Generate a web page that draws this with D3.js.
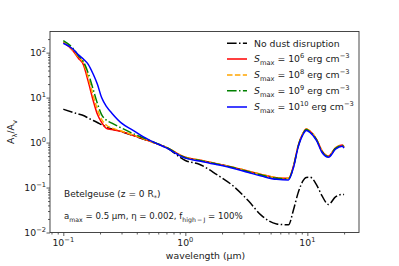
<!DOCTYPE html>
<html><head><meta charset="utf-8">
<script src="https://cdn.jsdelivr.net/npm/d3@7"></script>
<style>
body{margin:0;background:#fff}
svg{display:block}
text{font-family:"DejaVu Sans",sans-serif;fill:#1a1a1a}
</style>
</head><body>
<svg id="c" width="399" height="266"></svg>
<script>
// ---------- data ----------
const wavelength = [0.1,0.12,0.133,0.146,0.16,0.176,0.19,0.206,0.227,0.25,0.3,0.37,0.45,0.55,0.7,1.0,1.3,1.8,2.5,3.3,4.2,5.6,7.0,7.7,8.4,9.2,9.8,10.5,11.9,13.2,14.9,17,19.3,20];
const noDisruption = [5.5,4.7,4.3,4.0,3.5,3.1,2.8,2.5,2.2,2.0,1.75,1.45,1.2,1.0,0.77,0.40,0.33,0.196,0.105,0.05,0.024,0.0155,0.0148,0.032,0.076,0.14,0.168,0.17,0.115,0.065,0.042,0.062,0.07,0.07];
const smax1e6  = [170,110,75,54,23,8.5,4.3,2.8,2.05,1.95,1.75,1.46,1.22,1.0,0.78,0.47,0.41,0.34,0.28,0.23,0.196,0.165,0.16,0.3,0.84,1.6,2.0,1.8,1.18,0.65,0.5,0.76,0.88,0.8];
const smax1e8  = [172,115,80,60,28,11,5.5,3.3,2.4,2.1,1.8,1.48,1.23,1.0,0.78,0.47,0.41,0.34,0.28,0.23,0.196,0.165,0.16,0.3,0.84,1.6,2.0,1.8,1.18,0.65,0.5,0.76,0.88,0.8];
const smax1e9  = [185,125,85,63,35,15,7.5,4.2,3.1,2.7,2.1,1.6,1.28,1.02,0.78,0.46,0.40,0.335,0.275,0.225,0.19,0.16,0.155,0.29,0.82,1.55,1.95,1.75,1.15,0.63,0.49,0.74,0.86,0.78];
const smax1e10 = [162,120,89,72,55,33,20,10,6.2,4.5,2.7,1.9,1.35,1.02,0.76,0.45,0.39,0.325,0.265,0.215,0.18,0.152,0.148,0.28,0.78,1.5,1.85,1.68,1.1,0.6,0.47,0.71,0.83,0.75];
const seriesLabels = ["No dust disruption","6","8","9","10"];
const xTickExponents = ["\u22121","0","1"];
const yTickExponents = ["\u22122","\u22121","0","1","2"];

// ---------- layout ----------
const L=50,R=359,T=31.5,B=232.5;
const svg=d3.select("#c");
const x=d3.scaleLog().domain([0.0778,26.5]).range([L,R]);
const y=d3.scaleLog().domain([0.01,295]).range([B,T]);

svg.append("defs").append("clipPath").attr("id","clip")
  .append("rect").attr("x",L).attr("y",T).attr("width",R-L).attr("height",B-T);

// rich text: superscripts / subscripts done with dy, restored on the next tspan
function rich(sel, parts){
  let pending=0;
  parts.forEach(p=>{
    const ts=sel.append("tspan").text(p.t);
    let shift=0;
    if(p.sup) shift=-4;
    if(p.sub) shift=2.5;
    const dy=pending+shift;
    if(dy!==0) ts.attr("dy",dy);
    pending=-shift;
    if(p.sup||p.sub) ts.attr("font-size","0.72em");
    if(p.it) ts.attr("font-style","italic");
  });
}

// ---------- ticks ----------
const xMajor=[0.1,1,10];
const xMinor=[];
[0.01,0.1,1,10].forEach(d=>{for(let k=2;k<=9;k++){const v=d*k;if(v>=0.0778&&v<=26.5)xMinor.push(v);}});
const yMajor=[0.01,0.1,1,10,100];
const yMinor=[];
[0.01,0.1,1,10,100].forEach(d=>{for(let k=2;k<=9;k++){const v=d*k;if(v>=0.01&&v<=295)yMinor.push(v);}});

const gx=svg.append("g").attr("transform",`translate(0,${B})`);
gx.call(d3.axisBottom(x).tickValues(xMinor).tickSize(2).tickFormat(""));
gx.append("g").call(d3.axisBottom(x).tickValues(xMajor).tickSize(3.5).tickFormat(""));
gx.selectAll(".domain").remove();
gx.selectAll("text").remove();
gx.selectAll("line").attr("stroke","#333").attr("stroke-width",0.8);

const gy=svg.append("g").attr("transform",`translate(${L},0)`);
gy.call(d3.axisLeft(y).tickValues(yMinor).tickSize(2).tickFormat(""));
gy.append("g").call(d3.axisLeft(y).tickValues(yMajor).tickSize(3.5).tickFormat(""));
gy.selectAll(".domain").remove();
gy.selectAll("text").remove();
gy.selectAll("line").attr("stroke","#333").attr("stroke-width",0.8);

xMajor.forEach((v,i)=>{
  const t=svg.append("text").attr("x",x(v)).attr("y",246).attr("text-anchor","middle").attr("font-size",9.3);
  rich(t,[{t:"10"},{t:xTickExponents[i],sup:true}]);
});
yMajor.forEach((v,i)=>{
  const t=svg.append("text").attr("x",46).attr("y",y(v)+3.3).attr("text-anchor","end").attr("font-size",9.3);
  rich(t,[{t:"10"},{t:yTickExponents[i],sup:true}]);
});

// axis labels
svg.append("text").attr("x",(L+R)/2+1).attr("y",259).attr("text-anchor","middle").attr("font-size",9.3)
  .text("wavelength (\u03bcm)");
const yl=svg.append("text").attr("transform",`translate(14,${(T+B)/2}) rotate(-90)`).attr("text-anchor","middle").attr("font-size",9.3);
rich(yl,[{t:"A"},{t:"\u03bb",sub:true},{t:"/A"},{t:"v",sub:true}]);

// ---------- lines ----------
const styles=[
  {data:noDisruption,color:"#000000",dash:"9.6,2.4,1.5,2.4"},
  {data:smax1e6,color:"#ff0000",dash:null},
  {data:smax1e8,color:"#ffa500",dash:"5.5,2.4"},
  {data:smax1e9,color:"#008000",dash:"9.6,2.4,1.5,2.4"},
  {data:smax1e10,color:"#0000ff",dash:null}
];
const line=d3.line().x(d=>x(d[0])).y(d=>y(d[1])).curve(d3.curveMonotoneX);
const gl=svg.append("g").attr("clip-path","url(#clip)");
styles.forEach(s=>{
  gl.append("path").datum(wavelength.map((w,i)=>[w,s.data[i]]))
    .attr("d",line).attr("fill","none").attr("stroke",s.color)
    .attr("stroke-width",1.5).attr("stroke-dasharray",s.dash);
});

// frame
svg.append("rect").attr("x",L).attr("y",T).attr("width",R-L).attr("height",B-T)
  .attr("fill","none").attr("stroke","#333").attr("stroke-width",0.9);

// ---------- legend ----------
const rows=[43.3,59,75,90.7,107];
styles.forEach((s,i)=>{
  svg.append("line").attr("x1",227).attr("x2",247).attr("y1",rows[i]).attr("y2",rows[i])
    .attr("stroke",s.color).attr("stroke-width",1.5).attr("stroke-dasharray",s.dash);
  const t=svg.append("text").attr("x",254).attr("y",rows[i]+3.3).attr("font-size",9.3);
  if(i===0) rich(t,[{t:seriesLabels[0]}]);
  else rich(t,[{t:"S",it:true},{t:"max",sub:true},{t:" = 10"},{t:seriesLabels[i],sup:true},{t:" erg cm"},{t:"\u22123",sup:true}]);
});

// ---------- annotations ----------
const a1=svg.append("text").attr("x",64).attr("y",197).attr("font-size",9);
rich(a1,[{t:"Betelgeuse (z = 0 R"},{t:"*",sub:true},{t:")"}]);
const a2=svg.append("text").attr("x",64).attr("y",219).attr("font-size",8.6);
rich(a2,[{t:"a"},{t:"max",sub:true},{t:" = 0.5 \u03bcm, \u03b7 = 0.002, f"},{t:"high\u2009\u2212\u2009J",sub:true},{t:" = 100%"}]);
</script>
</body></html>
